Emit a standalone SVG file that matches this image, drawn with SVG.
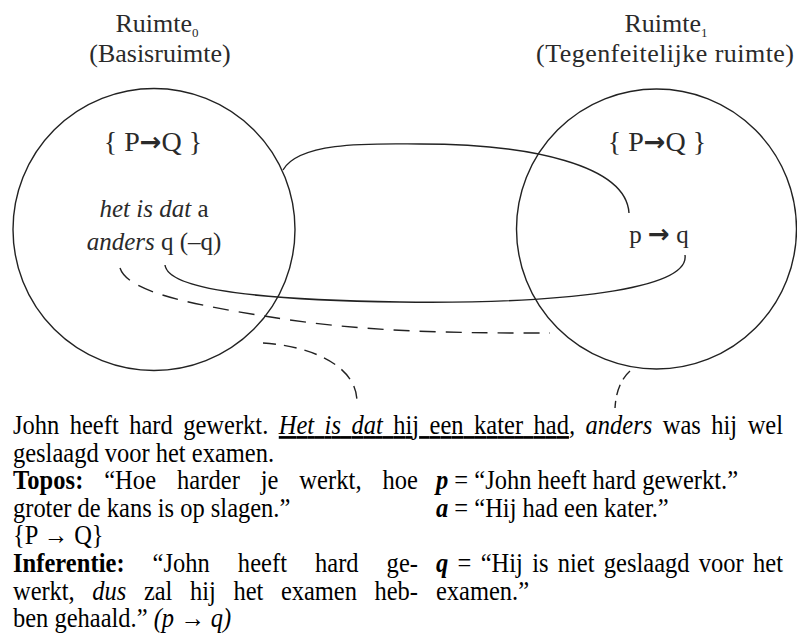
<svg xmlns="http://www.w3.org/2000/svg" width="797" height="634" viewBox="0 0 797 634">
<style>
.hdr{font-family:"Liberation Serif","Times New Roman",serif;font-size:26px;fill:#2a2a2a;text-anchor:middle}
.sub{font-size:13px}
.in{font-family:"Liberation Serif","Times New Roman",serif;font-size:25px;fill:#2a2a2a;text-anchor:middle}
.big{font-size:28px}
.arr{font-family:"DejaVu Sans",sans-serif;font-weight:bold;font-size:26px}
.space{fill:none;stroke:#222;stroke-width:1.4}
.con{fill:none;stroke:#222;stroke-width:1.4}
.dash{stroke-dasharray:16 10}
.body{font-family:"Liberation Serif","Times New Roman",serif;font-size:27px;fill:#000}
.b{font-weight:bold}
.i{font-style:italic}
.u{text-decoration:underline}
</style>
<rect width="797" height="634" fill="#fff"/>
<g id="ruimte0">
<text class="hdr" x="157" y="32">Ruimte<tspan class="sub" dy="5">0</tspan></text>
<text class="hdr" x="160" y="62">(Basisruimte)</text>
<circle class="space" cx="154" cy="229.5" r="141"/>
<text class="in big" x="153" y="151">{ P<tspan class="arr">→</tspan>Q }</text>
<text class="in" x="154" y="217"><tspan class="i">het is dat</tspan> a</text>
<text class="in" x="154" y="250"><tspan class="i">anders</tspan> q (–q)</text>
</g>
<g id="ruimte1">
<text class="hdr" x="666" y="32">Ruimte<tspan class="sub" dy="5">1</tspan></text>
<text class="hdr" x="665" y="62" textLength="258">(Tegenfeitelijke ruimte)</text>
<circle class="space" cx="656.5" cy="229" r="140"/>
<text class="in big" x="657" y="151">{ P<tspan class="arr">→</tspan>Q }</text>
<text class="in" x="659" y="243" font-size="26">p <tspan class="arr" font-size="23">→</tspan> q</text>
</g>
<g id="connectors">
<path class="con" d="M283,170 C300,140 380,144 420,144 C530,144 626,165 629,213"/>
<path class="con" d="M165,265 C168,290 260,300 400,302 C560,304 690,290 685,255"/>
<path class="con dash" d="M120,268 C128,292 190,305 290,320 C380,333 470,333 550,333"/>
<path class="con dash" d="M263,343 C310,346 357,365 357,402" style="stroke-dasharray:13 8"/>
<path class="con dash" d="M630,371 C622,378 616,390 615,408" style="stroke-dasharray:11 6"/>
</g>
<g id="text-block" class="body" transform="scale(0.907,1)">
<text x="14.33" y="434" word-spacing="4.8" textLength="849">John heeft hard gewerkt. <tspan class="i u">Het is dat</tspan><tspan class="u"> hij een kater had</tspan><tspan class="i">, anders</tspan> was hij wel</text>
<text x="14.33" y="461.6">geslaagd voor het examen.</text>
<text x="14.33" y="489.2" word-spacing="16" textLength="446.5"><tspan class="b">Topos:</tspan> “Hoe harder je werkt, hoe</text>
<text x="14.33" y="516.8">groter de kans is op slagen.”</text>
<text x="14.33" y="544.4">{P → Q}</text>
<text x="14.33" y="572" word-spacing="24" textLength="446.5"><tspan class="b">Inferentie:</tspan> “John heeft hard ge-</text>
<text x="14.33" y="599.6" word-spacing="12.8" textLength="446.5">werkt, <tspan class="i">dus</tspan> zal hij het examen heb-</text>
<text x="14.33" y="627.2">ben gehaald.” <tspan class="i">(p → q)</tspan></text>
<text x="480.7" y="489.2"><tspan class="b i">p</tspan> = “John heeft hard gewerkt.”</text>
<text x="480.7" y="516.8"><tspan class="b i">a</tspan> = “Hij had een kater.”</text>
<text x="480.7" y="572" word-spacing="3.5" textLength="382.6"><tspan class="b i">q</tspan> = “Hij is niet geslaagd voor het</text>
<text x="480.7" y="599.6">examen.”</text>
</g>
</svg>
